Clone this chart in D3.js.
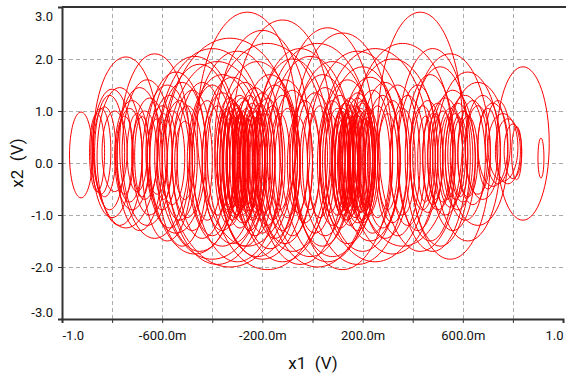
<!DOCTYPE html>
<html><head><meta charset="utf-8">
<script src="https://cdn.jsdelivr.net/npm/d3@7"></script>
<style>
html,body{margin:0;padding:0;background:#fff;}
svg{display:block;font-family:Roboto, "Liberation Sans", Arial, sans-serif;}
</style></head>
<body>
<svg id="chart" width="566" height="376"></svg>
<script>
// Axis ticks and labels
const xTickValues = [-1, -0.8, -0.6, -0.4, -0.2, 0, 0.2, 0.4, 0.6, 0.8, 1];
const xLabelValues = [-1, -0.6, -0.2, 0.2, 0.6, 1];
const xLabelTexts = ["-1.0", "-600.0m", "-200.0m", "200.0m", "600.0m", "1.0"];
const yTickValues = [-3, -2, -1, 0, 1, 2, 3];
const yLabelTexts = ["-3.0", "-2.0", "-1.0", "0.0", "1.0", "2.0", "3.0"];

// Trajectory loops: [x1 centre, x1 half-width, x2 top, x2 bottom] (V)
const leftLoops = [
  [-0.924, 0.046, 0.98, -0.67], [-0.86, 0.03, 0.95, -0.55], [-0.845, 0.04, 1.05, -0.6],
  [-0.83, 0.045, 1.08, -0.65], [-0.81, 0.06, 1.3, -0.9], [-0.80, 0.08, 1.42, -1.05],
  [-0.79, 0.05, 1.0, -0.55], [-0.77, 0.09, 1.45, -1.2], [-0.745, 0.13, 2.04, -1.25],
  [-0.75, 0.035, 0.9, -0.6], [-0.73, 0.05, 1.05, -0.75], [-0.72, 0.07, 1.2, -0.9],
  [-0.70, 0.04, 0.95, -0.55], [-0.69, 0.09, 1.45, -1.3], [-0.67, 0.05, 1.0, -0.7],
  [-0.65, 0.07, 1.25, -1.0], [-0.63, 0.14, 2.1, -1.45], [-0.62, 0.04, 0.85, -0.6],
  [-0.60, 0.06, 1.1, -0.9], [-0.58, 0.1, 1.5, -1.5], [-0.56, 0.05, 1.0, -0.8],
  [-0.545, 0.12, 1.75, -1.35], [-0.53, 0.07, 1.2, -1.1], [-0.51, 0.04, 0.8, -0.7],
  [-0.68, 0.03, 0.9, -0.65], [-0.66, 0.1, 1.6, -1.2], [-0.595, 0.035, 0.95, -0.7],
  [-0.57, 0.08, 1.3, -1.25], [-0.52, 0.1, 1.55, -1.6], [-0.50, 0.06, 1.1, -1.05]
];
const midLeftLoops = [
  [-0.26, 0.2, 2.9, -1.6], [-0.40, 0.22, 2.2, -1.85], [-0.33, 0.26, 2.4, -2.0],
  [-0.12, 0.2, 2.75, -1.9], [-0.18, 0.24, 2.3, -2.05], [-0.45, 0.15, 1.9, -1.7],
  [-0.05, 0.18, 2.2, -1.95], [-0.22, 0.16, 1.95, -1.8], [-0.36, 0.14, 1.7, -1.6],
  [-0.08, 0.15, 2.0, -1.7], [-0.48, 0.08, 1.4, -1.3], [-0.44, 0.1, 1.55, -1.45],
  [-0.42, 0.06, 1.2, -1.1], [-0.40, 0.09, 1.5, -1.4], [-0.38, 0.05, 1.1, -1.0],
  [-0.36, 0.08, 1.35, -1.3], [-0.34, 0.04, 1.0, -0.9], [-0.33, 0.06, 1.25, -1.2],
  [-0.31, 0.05, 1.15, -1.05], [-0.30, 0.03, 0.9, -0.85], [-0.29, 0.07, 1.3, -1.25],
  [-0.28, 0.04, 1.0, -1.0], [-0.27, 0.05, 1.2, -1.15], [-0.26, 0.03, 0.85, -0.8],
  [-0.25, 0.06, 1.3, -1.3], [-0.24, 0.04, 1.05, -1.05], [-0.23, 0.08, 1.45, -1.4],
  [-0.22, 0.03, 0.9, -0.9], [-0.21, 0.05, 1.15, -1.1], [-0.20, 0.07, 1.35, -1.35],
  [-0.19, 0.04, 1.0, -0.95], [-0.18, 0.06, 1.25, -1.2], [-0.16, 0.05, 1.1, -1.1],
  [-0.15, 0.09, 1.5, -1.45], [-0.13, 0.04, 0.95, -0.9], [-0.12, 0.07, 1.3, -1.3],
  [-0.10, 0.05, 1.05, -1.05], [-0.08, 0.08, 1.4, -1.4], [-0.06, 0.04, 0.9, -0.95],
  [-0.32, 0.12, 1.65, -1.55], [-0.27, 0.1, 1.55, -1.6], [-0.17, 0.12, 1.7, -1.65],
  [-0.11, 0.11, 1.6, -1.55], [-0.47, 0.18, 2.05, -1.75], [-0.30, 0.18, 2.15, -1.9],
  [-0.20, 0.19, 2.55, -1.85], [-0.38, 0.2, 1.95, -1.95]
];
const denseLeftLoops = [
  [-0.355, 0.025, 0.95, -0.85], [-0.345, 0.035, 1.05, -0.95], [-0.335, 0.02, 0.85, -0.8],
  [-0.325, 0.03, 1.0, -0.9], [-0.315, 0.025, 0.9, -0.85], [-0.305, 0.04, 1.1, -1.0],
  [-0.295, 0.02, 0.8, -0.75], [-0.285, 0.03, 0.95, -0.9], [-0.275, 0.025, 0.9, -0.85],
  [-0.265, 0.035, 1.05, -0.95], [-0.255, 0.02, 0.85, -0.8], [-0.245, 0.03, 0.95, -0.9],
  [-0.235, 0.025, 0.9, -0.85], [-0.225, 0.035, 1.0, -0.95], [-0.32, 0.05, 1.2, -1.1],
  [-0.28, 0.06, 1.25, -1.15], [-0.24, 0.05, 1.15, -1.1], [-0.30, 0.045, 1.05, -1.0]
];
const midRightLoops = [
  [0.43, 0.17, 2.9, -1.7], [0.12, 0.2, 2.5, -2.05], [0.02, 0.22, 2.3, -2.0],
  [0.25, 0.22, 2.2, -1.9], [0.32, 0.18, 2.0, -1.75], [0.08, 0.16, 1.95, -1.8],
  [0.20, 0.15, 1.85, -1.7], [0.36, 0.2, 2.3, -1.6], [-0.03, 0.06, 1.2, -1.15],
  [-0.01, 0.04, 0.95, -0.9], [0.01, 0.08, 1.35, -1.35], [0.03, 0.05, 1.1, -1.05],
  [0.05, 0.09, 1.45, -1.4], [0.07, 0.04, 0.95, -0.95], [0.08, 0.06, 1.2, -1.2],
  [0.10, 0.05, 1.05, -1.0], [0.11, 0.07, 1.3, -1.25], [0.12, 0.03, 0.85, -0.85],
  [0.13, 0.05, 1.15, -1.1], [0.14, 0.04, 0.95, -0.95], [0.15, 0.06, 1.25, -1.2],
  [0.16, 0.03, 0.9, -0.85], [0.17, 0.05, 1.1, -1.05], [0.18, 0.07, 1.35, -1.3],
  [0.19, 0.04, 1.0, -0.95], [0.20, 0.06, 1.2, -1.15], [0.21, 0.03, 0.85, -0.8],
  [0.22, 0.05, 1.05, -1.0], [0.24, 0.08, 1.4, -1.35], [0.26, 0.05, 1.1, -1.05],
  [0.28, 0.07, 1.3, -1.25], [0.30, 0.04, 0.95, -0.9], [0.32, 0.06, 1.2, -1.15],
  [0.34, 0.09, 1.5, -1.4], [0.36, 0.05, 1.05, -1.0], [0.38, 0.07, 1.3, -1.2],
  [0.04, 0.12, 1.7, -1.6], [0.14, 0.11, 1.6, -1.55], [0.23, 0.12, 1.65, -1.5],
  [0.29, 0.1, 1.55, -1.45], [0.06, 0.19, 2.6, -1.9], [0.18, 0.2, 2.15, -1.95],
  [-0.01, 0.17, 2.05, -1.8]
];
const denseRightLoops = [
  [0.105, 0.025, 0.9, -0.85], [0.115, 0.035, 1.0, -0.95], [0.125, 0.02, 0.85, -0.8],
  [0.135, 0.03, 0.95, -0.9], [0.145, 0.025, 0.9, -0.85], [0.155, 0.04, 1.1, -1.0],
  [0.165, 0.02, 0.8, -0.75], [0.175, 0.03, 0.95, -0.9], [0.185, 0.025, 0.9, -0.85],
  [0.195, 0.035, 1.05, -0.95], [0.205, 0.02, 0.85, -0.8], [0.215, 0.03, 0.95, -0.9],
  [0.225, 0.025, 0.9, -0.85], [0.14, 0.05, 1.2, -1.1], [0.18, 0.06, 1.25, -1.15],
  [0.12, 0.045, 1.05, -1.0], [0.20, 0.05, 1.15, -1.1]
];
const rightLoops = [
  [0.42, 0.08, 1.5, -1.3], [0.44, 0.05, 1.1, -0.9], [0.46, 0.06, 1.2, -0.95],
  [0.47, 0.1, 1.7, -1.5], [0.48, 0.04, 0.95, -0.8], [0.50, 0.06, 1.15, -0.9],
  [0.51, 0.12, 1.85, -1.6], [0.52, 0.04, 1.0, -0.75], [0.53, 0.07, 1.25, -1.0],
  [0.55, 0.05, 1.05, -0.85], [0.56, 0.09, 1.4, -1.3], [0.57, 0.04, 0.95, -0.7],
  [0.58, 0.06, 1.15, -0.9], [0.60, 0.05, 1.0, -0.75], [0.61, 0.08, 1.3, -1.1],
  [0.62, 0.04, 0.9, -0.65], [0.64, 0.06, 1.2, -0.8], [0.66, 0.05, 1.1, -0.6],
  [0.68, 0.07, 1.3, -0.7], [0.70, 0.04, 1.05, -0.5], [0.72, 0.06, 1.15, -0.45],
  [0.74, 0.05, 1.2, -0.4], [0.76, 0.06, 0.95, -0.35], [0.78, 0.05, 0.85, -0.4],
  [0.80, 0.035, 0.75, -0.3], [0.815, 0.02, 0.7, -0.32], [0.84, 0.105, 1.85, -1.1],
  [0.912, 0.012, 0.48, -0.29], [0.55, 0.16, 2.1, -1.85], [0.62, 0.13, 1.75, -1.5],
  [0.48, 0.14, 2.2, -1.7], [0.66, 0.12, 1.55, -1.2], [0.45, 0.03, 0.9, -0.75],
  [0.49, 0.03, 0.95, -0.7], [0.54, 0.03, 0.9, -0.7], [0.59, 0.03, 0.85, -0.65]
];

const W = 566, H = 376;
const plotL = 62, plotR = 563, plotT = 7, plotB = 319;
const svg = d3.select("#chart");
const x = d3.scaleLinear().domain([-1, 1]).range([plotL, plotR]);
const y = d3.scaleLinear().domain([-3, 3]).range([plotB, plotT]);

// grid
const grid = svg.append("g").attr("stroke", "#aaa").attr("stroke-width", 1).attr("stroke-dasharray", "4,3");
grid.selectAll("line.v").data(xTickValues.filter(v => v > -1 && v < 1)).join("line")
  .attr("x1", d => Math.round(x(d)) + 0.5).attr("x2", d => Math.round(x(d)) + 0.5)
  .attr("y1", plotT).attr("y2", plotB);
grid.selectAll("line.h").data(yTickValues.filter(v => v > -3 && v < 3)).join("line")
  .attr("x1", plotL).attr("x2", plotR)
  .attr("y1", d => Math.round(y(d)) + 0.5).attr("y2", d => Math.round(y(d)) + 0.5);

// trajectory
svg.append("clipPath").attr("id", "clip").append("rect")
  .attr("x", plotL).attr("y", plotT).attr("width", plotR - plotL).attr("height", plotB - plotT);
const loops = [].concat(leftLoops, midLeftLoops, denseLeftLoops, midRightLoops, denseRightLoops, rightLoops);
const line = d3.line().x(d => x(d[0])).y(d => y(d[1])).curve(d3.curveCardinalClosed.tension(-0.656));
svg.append("g").attr("clip-path", "url(#clip)")
  .selectAll("path").data(loops).join("path")
  .attr("fill", "none").attr("stroke", "#ff0000").attr("stroke-width", 1)
  .attr("d", d => {
    const [cx, hw, t, b] = d; const m = (t + b) / 2;
    return line([[cx + hw, m], [cx, t], [cx - hw, m], [cx, b]]);
  });

// axes
const xAxis = d3.axisBottom(x).tickValues(xTickValues).tickSize(4)
  .tickFormat(v => { const i = xLabelValues.findIndex(u => Math.abs(u - v) < 1e-9); return i >= 0 ? xLabelTexts[i] : ""; });
const gx = svg.append("g").attr("transform", `translate(0,${plotB})`).call(xAxis);
gx.select(".domain").attr("stroke", "#333").attr("stroke-width", 2);
gx.selectAll(".tick line").attr("stroke", "#333");
gx.selectAll(".tick text").attr("fill", "#111").attr("font-size", 13).attr("font-family", "Roboto, sans-serif").attr("dy", "1.1em");
gx.selectAll(".tick text").filter(d => d === -1).attr("text-anchor", "start");
gx.selectAll(".tick text").filter(d => d === 1).attr("text-anchor", "end");

const yAxis = d3.axisLeft(y).tickValues(yTickValues).tickSize(4)
  .tickFormat(v => yLabelTexts[yTickValues.indexOf(v)]);
const gy = svg.append("g").attr("transform", `translate(${plotL},0)`).call(yAxis);
gy.select(".domain").attr("stroke", "#333").attr("stroke-width", 2);
gy.selectAll(".tick line").attr("stroke", "#333");
gy.selectAll(".tick text").attr("fill", "#111").attr("font-size", 13).attr("font-family", "Roboto, sans-serif").attr("x", -9);
gy.selectAll(".tick text").filter(d => d === 3).attr("dy", "1.05em");
gy.selectAll(".tick text").filter(d => d === -3).attr("dy", "-0.2em");

// top border
svg.append("line").attr("x1", plotL).attr("x2", W).attr("y1", plotT).attr("y2", plotT)
  .attr("stroke", "#333").attr("stroke-width", 2);

// axis titles
svg.append("text").attr("x", 313).attr("y", 369).attr("text-anchor", "middle")
  .attr("font-size", 17).attr("fill", "#111").style("white-space", "pre").text("x1  (V)");
svg.append("text").attr("transform", "translate(23,163) rotate(-90)").attr("text-anchor", "middle")
  .attr("font-size", 17).attr("fill", "#111").style("white-space", "pre").text("x2  (V)");
</script>
</body></html>
